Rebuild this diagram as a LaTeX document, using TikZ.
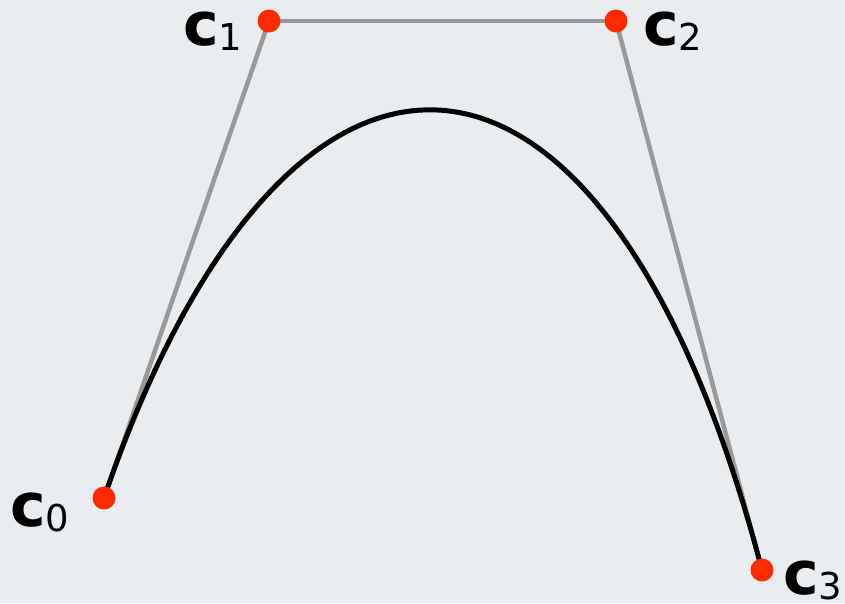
\documentclass[tikz,border=0pt]{standalone}
\usepackage{fontspec}
\setmainfont{DejaVu Sans}
\usepackage{tikz}
\definecolor{ptred}{RGB}{255,42,0}
\definecolor{polygray}{RGB}{153,153,153}
\definecolor{bggray}{RGB}{234,237,239}
\tikzset{
  ctrlpt/.style={circle,fill=ptred,minimum size=23pt,inner sep=0pt},
  ctrlline/.style={line width=4.5pt,polygray},
  bezier/.style={line width=5pt,black},
  ptlabel/.style={anchor=base west,inner sep=0pt,font=\fontsize{60}{66}\selectfont}
}
\newcommand{\cpt}[1]{{\bfseries c}\raisebox{-5pt}{\fontsize{37}{40}\selectfont #1}}

\begin{document}
\begin{tikzpicture}[x=1pt,y=-1pt]

% background, fixes the size
\fill[bggray] (0,0) rectangle (845,603);
\useasboundingbox (0,0) rectangle (845,603);

% control point positions
\coordinate (p0) at (104,498);
\coordinate (p1) at (269, 21);
\coordinate (p2) at (616, 21);
\coordinate (p3) at (762,570);

% control polygon
\foreach \i/\j in {p0/p1,p1/p2,p2/p3}
{
  \draw[ctrlline] (\i) -- (\j);
}

% the curve
\draw[bezier] (p0) .. controls (285,-31) and (604,-31) .. (p3);

% control points on top
\node[ctrlpt] (c0) at (p0) {};
\node[ctrlpt] (c1) at (p1) {};
\node[ctrlpt] (c2) at (p2) {};
\node[ctrlpt] (c3) at (p3) {};

% labels
\node[ptlabel] (l0) at (10,526) {\cpt{0}};
\node[ptlabel] (l1) at (183,45) {\cpt{1}};
\node[ptlabel] (l2) at (643,45) {\cpt{2}};
\node[ptlabel] (l3) at (783,594) {\cpt{3}};

\end{tikzpicture}
\end{document}
